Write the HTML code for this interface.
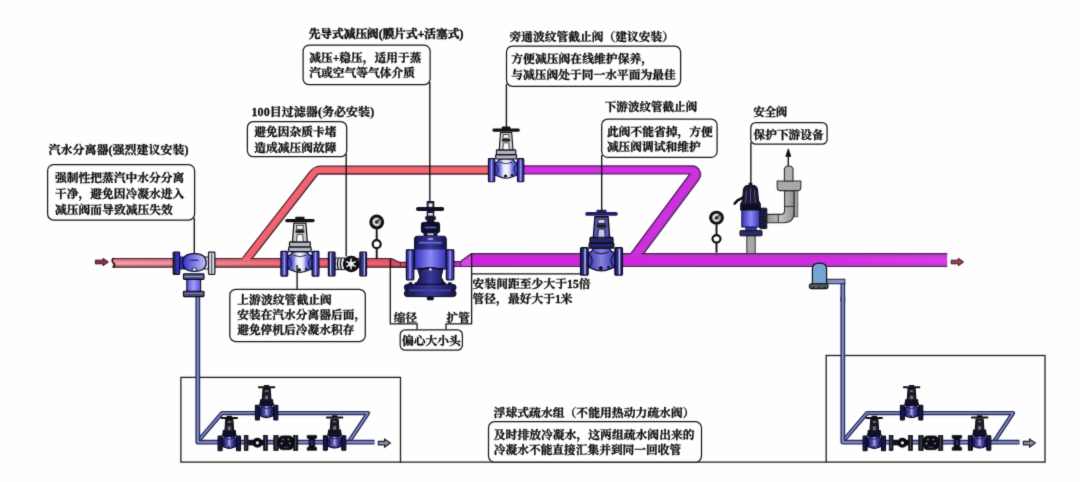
<!DOCTYPE html>
<html lang="zh-CN">
<head>
<meta charset="utf-8">
<title>减压阀组安装示意图</title>
<style>
html,body{margin:0;padding:0;background:#fefefe;}
body{width:1080px;height:482px;overflow:hidden;position:relative;}
svg{position:absolute;left:0;top:0;display:block;will-change:transform;}
svg text{font-family:"Liberation Serif", "Noto Serif CJK SC", serif;}
</style>
</head>
<body>
<svg width="1080" height="482" viewBox="0 0 1080 482">
<defs>
<filter id="soft" x="0" y="0" width="1080" height="482" filterUnits="userSpaceOnUse" color-interpolation-filters="sRGB">
<feConvolveMatrix order="3" kernelMatrix="0.02 0.08 0.02 0.08 0.6 0.08 0.02 0.08 0.02" divisor="1" edgeMode="duplicate" preserveAlpha="true"/>
</filter>
<linearGradient id="gRedH" gradientUnits="userSpaceOnUse" x1="113" y1="0" x2="391" y2="0">
<stop offset="0" stop-color="#f99aa8"/><stop offset="0.3" stop-color="#f78896"/><stop offset="0.55" stop-color="#f66a7a"/><stop offset="1" stop-color="#f4566a"/>
</linearGradient>
<linearGradient id="gShade" x1="0" y1="0" x2="0" y2="1">
<stop offset="0" stop-color="#8c5864" stop-opacity="0.6"/><stop offset="0.16" stop-color="#8c5864" stop-opacity="0.5"/><stop offset="0.4" stop-color="#8c5864" stop-opacity="0"/><stop offset="0.62" stop-color="#8c5864" stop-opacity="0"/><stop offset="0.84" stop-color="#806060" stop-opacity="0.55"/><stop offset="1" stop-color="#806060" stop-opacity="0.7"/>
</linearGradient>
<linearGradient id="gMagH" gradientUnits="userSpaceOnUse" x1="454" y1="0" x2="947" y2="0">
<stop offset="0" stop-color="#d020e0"/><stop offset="0.7" stop-color="#d22ae2"/><stop offset="1" stop-color="#da3aea"/>
</linearGradient>
<linearGradient id="gShadeM" x1="0" y1="0" x2="0" y2="1">
<stop offset="0" stop-color="#8c5090" stop-opacity="0.6"/><stop offset="0.14" stop-color="#8c5090" stop-opacity="0.5"/><stop offset="0.3" stop-color="#8c5090" stop-opacity="0"/><stop offset="0.7" stop-color="#8c5090" stop-opacity="0"/><stop offset="0.86" stop-color="#8c5090" stop-opacity="0.5"/><stop offset="1" stop-color="#8c5090" stop-opacity="0.6"/>
</linearGradient>
<linearGradient id="gFl" x1="0" y1="0" x2="1" y2="0">
<stop offset="0" stop-color="#24227c"/><stop offset="0.3" stop-color="#4442bc"/><stop offset="0.5" stop-color="#a8a6ea"/><stop offset="0.7" stop-color="#4442bc"/><stop offset="1" stop-color="#222074"/>
</linearGradient>
<linearGradient id="gFlD" x1="0" y1="0" x2="1" y2="0">
<stop offset="0" stop-color="#1c1a5c"/><stop offset="0.4" stop-color="#2c2a88"/><stop offset="0.6" stop-color="#d0d0f0"/><stop offset="0.78" stop-color="#2c2a88"/><stop offset="1" stop-color="#1c1a5c"/>
</linearGradient>
<linearGradient id="gFlL" x1="0" y1="0" x2="1" y2="0">
<stop offset="0" stop-color="#1c1c44"/><stop offset="0.4" stop-color="#2a2a70"/><stop offset="0.6" stop-color="#3836cc"/><stop offset="1" stop-color="#3432c4"/>
</linearGradient>
<linearGradient id="gFlS" x1="0" y1="0" x2="1" y2="0">
<stop offset="0" stop-color="#22205c"/><stop offset="0.18" stop-color="#2e2c7c"/><stop offset="0.32" stop-color="#d0d0f0"/><stop offset="0.48" stop-color="#3c3a94"/><stop offset="1" stop-color="#24225c"/>
</linearGradient>
<linearGradient id="gBodyS" x1="0" y1="0" x2="1" y2="0">
<stop offset="0" stop-color="#1e1c70"/><stop offset="0.35" stop-color="#4a48a8"/><stop offset="0.5" stop-color="#b0aee4"/><stop offset="0.65" stop-color="#4a48a8"/><stop offset="1" stop-color="#1e1c70"/>
</linearGradient>
<linearGradient id="gSep" x1="0" y1="0" x2="1" y2="0">
<stop offset="0" stop-color="#3230c0"/><stop offset="0.45" stop-color="#7a78e4"/><stop offset="1" stop-color="#c4c4f4"/>
</linearGradient>
<linearGradient id="gBodyL" x1="0" y1="0" x2="1" y2="0">
<stop offset="0" stop-color="#3c3ac0"/><stop offset="0.22" stop-color="#6c6ad4"/><stop offset="0.38" stop-color="#e4e4f8"/><stop offset="0.5" stop-color="#f6f6fc"/><stop offset="0.62" stop-color="#e4e4f8"/><stop offset="0.78" stop-color="#6c6ad4"/><stop offset="1" stop-color="#3c3ac0"/>
</linearGradient>
<linearGradient id="gBodyD" x1="0" y1="0" x2="1" y2="0">
<stop offset="0" stop-color="#3a38b4"/><stop offset="0.35" stop-color="#6c6acc"/><stop offset="0.5" stop-color="#8482d8"/><stop offset="0.65" stop-color="#6c6acc"/><stop offset="1" stop-color="#3a38b4"/>
</linearGradient>
<linearGradient id="gGray" x1="0" y1="0" x2="1" y2="0">
<stop offset="0" stop-color="#8e9090"/><stop offset="0.5" stop-color="#c4c6c6"/><stop offset="1" stop-color="#8e9090"/>
</linearGradient>
<linearGradient id="gPRV" x1="0" y1="0" x2="1" y2="0">
<stop offset="0" stop-color="#3432b4"/><stop offset="0.5" stop-color="#8a88f8"/><stop offset="1" stop-color="#3432b4"/>
</linearGradient>
<linearGradient id="gPRV2" x1="0" y1="0" x2="1" y2="0">
<stop offset="0" stop-color="#5452d8"/><stop offset="0.5" stop-color="#a09ef8"/><stop offset="1" stop-color="#5452d8"/>
</linearGradient>
<linearGradient id="gNavy" x1="0" y1="0" x2="1" y2="0">
<stop offset="0" stop-color="#15144c"/><stop offset="0.5" stop-color="#3a3a9c"/><stop offset="1" stop-color="#15144c"/>
</linearGradient>

<g id="valve-light">
<path d="M-12.4,-8 C-9,-8 -8,-10 -7.2,-12 L7.2,-12 C8,-10 9,-8 12.4,-8 L12.4,5 C8,6.6 5,8.6 0,8.6 C-5,8.6 -8,6.6 -12.4,5 Z" fill="url(#gBodyL)" stroke="#0c0c24" stroke-width="1.2"/>
<path d="M-12,-7 C-7.4,-3 -7.4,2 -12,5.2 M12,-7 C7.4,-3 7.4,2 12,5.2" fill="none" stroke="#0c0c24" stroke-width="0.96"/>
<path d="M-6.4,-8.4 Q0,-5.6 6.4,-8.4" fill="none" stroke="#0c0c24" stroke-width="0.84"/>
<circle cx="-0.6" cy="6.2" r="1.7" fill="#0c0c18"/>
<circle cx="6.4" cy="5.4" r="1.3" fill="#16162c"/>
<rect x="-19" y="-12.4" width="6.8" height="24.8" rx="0.8" fill="url(#gFl)" stroke="#0c0c24" stroke-width="1.2"/>
<rect x="12.2" y="-12.4" width="6.8" height="24.8" rx="0.8" fill="url(#gFl)" stroke="#0c0c24" stroke-width="1.2"/>
<rect x="-11.2" y="-16.7" width="22.4" height="4.7" rx="0.8" fill="#b4b4c4" stroke="#0c0c14" stroke-width="1.2"/>
<rect x="-10.4" y="-21.8" width="20.8" height="5" rx="0.8" fill="#b4b4c4" stroke="#0c0c14" stroke-width="1.2"/>
<path d="M-7.4,-21.8 L-6,-40.6 L6,-40.6 L7.4,-21.8 Z" fill="#d0d0d6" stroke="#0c0c14" stroke-width="1.2"/>
<path d="M-3.4,-22 L-2.8,-29.4 L2.8,-29.4 L3.4,-22 Z" fill="#fafafa" stroke="#1c1c1c" stroke-width="0.84"/>
<rect x="-3.2" y="-38.4" width="6.4" height="4" fill="#fafafa" stroke="#1c1c1c" stroke-width="0.84"/>
<rect x="-4.4" y="-33.6" width="8.8" height="2.8" fill="#1c1c1c"/>
<rect x="-14.8" y="-44.8" width="29.6" height="3.4" rx="1.7" fill="#111"/>
<rect x="-4.6" y="-46.9" width="9.2" height="3" rx="0.8" fill="#111"/>
</g>
<g id="valve-dark">
<path d="M-12.4,-8 C-9,-8 -8,-10 -7.2,-12 L7.2,-12 C8,-10 9,-8 12.4,-8 L12.4,5 C8,6.6 5,8.6 0,8.6 C-5,8.6 -8,6.6 -12.4,5 Z" fill="url(#gBodyD)" stroke="#0c0c24" stroke-width="1.2"/>
<path d="M-12,-7 C-7.4,-3 -7.4,2 -12,5.2 M12,-7 C7.4,-3 7.4,2 12,5.2" fill="none" stroke="#0c0c24" stroke-width="0.96"/>
<path d="M-6.4,-8.4 Q0,-5.6 6.4,-8.4" fill="none" stroke="#0c0c24" stroke-width="0.84"/>
<circle cx="-0.6" cy="6.2" r="1.7" fill="#0c0c18"/>
<circle cx="6.4" cy="5.4" r="1.3" fill="#16162c"/>
<rect x="-19" y="-12.4" width="6.8" height="24.8" rx="0.8" fill="url(#gFlD)" stroke="#0c0c24" stroke-width="1.2"/>
<rect x="12.2" y="-12.4" width="6.8" height="24.8" rx="0.8" fill="url(#gFlD)" stroke="#0c0c24" stroke-width="1.2"/>
<rect x="-11.2" y="-16.7" width="22.4" height="4.7" rx="0.8" fill="#26246c" stroke="#0c0c14" stroke-width="1.2"/>
<rect x="-10.4" y="-21.8" width="20.8" height="5" rx="0.8" fill="#26246c" stroke="#0c0c14" stroke-width="1.2"/>
<path d="M-7.4,-21.8 L-6,-40.6 L6,-40.6 L7.4,-21.8 Z" fill="#5a58bc" stroke="#0c0c14" stroke-width="1.2"/>
<path d="M-3.4,-22 L-2.8,-29.4 L2.8,-29.4 L3.4,-22 Z" fill="#c8c8f0" stroke="#1c1c1c" stroke-width="0.84"/>
<rect x="-3.2" y="-38.4" width="6.4" height="4" fill="#c8c8f0" stroke="#1c1c1c" stroke-width="0.84"/>
<rect x="-4.4" y="-33.6" width="8.8" height="2.8" fill="#1c1c1c"/>
<rect x="-14.8" y="-44.8" width="29.6" height="3.4" rx="1.7" fill="#202064"/>
<rect x="-4.6" y="-46.9" width="9.2" height="3" rx="0.8" fill="#202064"/>
</g>
<g id="valve-small">
<path d="M-12.4,-8 C-9,-8 -8,-10 -7.2,-12 L7.2,-12 C8,-10 9,-8 12.4,-8 L12.4,5 C8,6.6 5,8.6 0,8.6 C-5,8.6 -8,6.6 -12.4,5 Z" fill="url(#gBodyS)" stroke="#08081a" stroke-width="1.8"/>
<path d="M-12,-7 C-7.4,-3 -7.4,2 -12,5.2 M12,-7 C7.4,-3 7.4,2 12,5.2" fill="none" stroke="#08081a" stroke-width="1.44"/>
<path d="M-6.4,-8.4 Q0,-5.6 6.4,-8.4" fill="none" stroke="#08081a" stroke-width="1.26"/>
<circle cx="-0.6" cy="6.2" r="1.7" fill="#0c0c18"/>
<circle cx="6.4" cy="5.4" r="1.3" fill="#16162c"/>
<rect x="-19" y="-12.4" width="6.8" height="24.8" rx="0.8" fill="#16164a" stroke="#08081a" stroke-width="1.8"/>
<rect x="12.2" y="-12.4" width="6.8" height="24.8" rx="0.8" fill="#16164a" stroke="#08081a" stroke-width="1.8"/>
<rect x="-11.2" y="-16.7" width="22.4" height="4.7" rx="0.8" fill="#121234" stroke="#0c0c14" stroke-width="1.8"/>
<rect x="-10.4" y="-21.8" width="20.8" height="5" rx="0.8" fill="#121234" stroke="#0c0c14" stroke-width="1.8"/>
<path d="M-7.4,-21.8 L-6,-40.6 L6,-40.6 L7.4,-21.8 Z" fill="#1c1c30" stroke="#0c0c14" stroke-width="1.8"/>
<path d="M-3.4,-22 L-2.8,-29.4 L2.8,-29.4 L3.4,-22 Z" fill="#74748c" stroke="#1c1c1c" stroke-width="1.26"/>
<rect x="-3.2" y="-38.4" width="6.4" height="4" fill="#74748c" stroke="#1c1c1c" stroke-width="1.26"/>
<rect x="-4.4" y="-33.6" width="8.8" height="2.8" fill="#1c1c1c"/>
<rect x="-14.8" y="-44.8" width="29.6" height="3.4" rx="1.7" fill="#111"/>
<rect x="-4.6" y="-46.9" width="9.2" height="3" rx="0.8" fill="#111"/>
</g>
<g id="gauge">
<line x1="0" y1="7" x2="0" y2="36.8" stroke="#111" stroke-width="1.9"/>
<circle cx="0" cy="0" r="7.4" fill="#121212"/>
<circle cx="0" cy="0" r="4.5" fill="#a4a4a4"/>
<path d="M2.2,2.2 A3,3 0 1 1 2.2,-2.2" fill="none" stroke="#ececec" stroke-width="1.4"/>
<circle cx="-0.2" cy="0.2" r="1.7" fill="#2c2c2c"/>
<line x1="-0.4" y1="0.8" x2="2.8" y2="-3" stroke="#1c1c1c" stroke-width="1.2"/>
<circle cx="0" cy="22.3" r="4" fill="#fefefe" stroke="#111" stroke-width="2.2"/>
</g>
<g id="trapgroup">
<path d="M199.4,439.6 L222,413.1 L368,413.1 L349.5,441" fill="none" stroke="#262e60" stroke-width="4.3" stroke-linejoin="round"/>
<path d="M199.4,439.6 L222,413.1 L368,413.1 L349.5,441" fill="none" stroke="#8890c4" stroke-width="1.5" stroke-linejoin="round"/>
<path d="M197.8,296.4 L197.8,442.2 L374.5,442.2" fill="none" stroke="#262e60" stroke-width="4.8" stroke-linejoin="round"/>
<path d="M197.8,296.4 L197.8,442.2 L374.5,442.2" fill="none" stroke="#8890c4" stroke-width="2.0" stroke-linejoin="round"/>
</g>
<g id="trapparts">
<use href="#valve-small" transform="translate(229.3,443.4) scale(0.59)"/>
<use href="#valve-small" transform="translate(266.6,412.6) scale(0.59)"/>
<use href="#valve-small" transform="translate(334.6,443) scale(0.59)"/>
<rect x="244.2" y="435.4" width="3.8" height="15" fill="#14141c" stroke="#0a0a10" stroke-width="0.7"/>
<rect x="263.6" y="435.4" width="3.8" height="15" fill="#14141c" stroke="#0a0a10" stroke-width="0.7"/>
<line x1="246" y1="436.4" x2="246" y2="449.4" stroke="#6c6c80" stroke-width="0.7"/>
<line x1="265.6" y1="436.4" x2="265.6" y2="449.4" stroke="#6c6c80" stroke-width="0.7"/>
<rect x="248.2" y="440" width="15.4" height="5.4" fill="#101018"/>
<circle cx="257.4" cy="442.8" r="3.3" fill="#f0f0f4" stroke="#0a0a10" stroke-width="3.4"/>
<rect x="273.8" y="435.6" width="4.4" height="14.8" fill="#14141c" stroke="#0a0a10" stroke-width="0.7"/>
<rect x="293.6" y="435.6" width="4.2" height="14.8" fill="#14141c" stroke="#0a0a10" stroke-width="0.7"/>
<line x1="276" y1="436.6" x2="276" y2="449.4" stroke="#6c6c80" stroke-width="0.7"/>
<line x1="295.6" y1="436.6" x2="295.6" y2="449.4" stroke="#6c6c80" stroke-width="0.7"/>
<rect x="278.4" y="435.9" width="15.2" height="13.8" rx="4.4" fill="#0c0c14" stroke="#0a0a10" stroke-width="0.8"/>
<circle cx="283" cy="439.4" r="0.9" fill="#8c8c9c"/><circle cx="288.4" cy="439.4" r="0.9" fill="#8c8c9c"/>
<circle cx="281.6" cy="443.4" r="1" fill="#9c9cac"/><circle cx="289.8" cy="443.4" r="0.9" fill="#8c8c9c"/>
<path d="M283.4,447 q2.6,1 5.2,0" fill="none" stroke="#6c6c7c" stroke-width="0.7"/>
<path d="M307.2,435.4 h9.4 v2.8 h-1.8 v9.2 h1.8 v2.8 h-9.4 v-2.8 h1.8 v-9.2 h-1.8 Z" fill="#0c0c14" stroke="#0a0a10" stroke-width="0.7"/>
<rect x="310.4" y="440.2" width="3" height="5" fill="#26267c"/>
<path d="M378.4,441.4 h6.2 v-2.3 l5.8,4 l-5.8,4 v-2.3 h-6.2 Z" fill="#8a90a2" stroke="#20202c" stroke-width="1.2"/>

</g>
</defs>
<g filter="url(#soft)">
<rect x="0" y="0" width="1080" height="482" fill="#fefefe"/>
<rect x="180.9" y="377.4" width="219.6" height="84.7" fill="none" stroke="#1c1c1c" stroke-width="1.3"/>
<rect x="826.2" y="355.5" width="218.8" height="106.6" fill="none" stroke="#1c1c1c" stroke-width="1.3"/>
<line x1="400.0" y1="462.1" x2="826.5" y2="462.1" stroke="#1c1c1c" stroke-width="1.3"/>
<path d="M242.2,258.6 L308.8,173.2 Q314.3,166.2 320,166.2 L506,166.2 L506,174 L318,174 L252,258.6 Z" fill="#d46c78" stroke="#54202a" stroke-width="1.3" stroke-linejoin="round"/>
<path d="M243.6,262 L315.6,170.1 L506,170.1" fill="none" stroke="#ea6472" stroke-width="5" stroke-linejoin="round"/>
<path d="M243.6,262 L315.6,170.1 L506,170.1" fill="none" stroke="#f8626f" stroke-width="3.2" stroke-linejoin="round"/>
<path d="M506,166 L691.8,166 A8.6,8.6 0 0 1 698.8,179.7 L643.4,253.8 L630.6,253.8 L690,173.8 L506,173.8 Z" fill="#b440c0" stroke="#581868" stroke-width="1.3" stroke-linejoin="round"/>
<path d="M506,169.9 L692,169.9 Q697.6,170.4 694.6,176 L633.6,258" fill="none" stroke="#c434d4" stroke-width="6.4" stroke-linejoin="round"/>
<path d="M506,169.9 L692,169.9 Q697.6,170.4 694.6,176 L633.6,258" fill="none" stroke="#d22ee2" stroke-width="4.4" stroke-linejoin="round"/>
<rect x="112.6" y="258.6" width="278.4" height="8.6" fill="url(#gRedH)"/>
<rect x="112.6" y="258.6" width="278.4" height="8.6" fill="url(#gShade)"/>
<path d="M390.6,258.6 C394.5,258.6 396.5,262.4 400.4,262.4 L406.6,262.4 L406.6,267.2 L390.6,267.2 Z" fill="#d04c6c" stroke="#54202a" stroke-width="1.2"/>
<line x1="400.4" y1="262.4" x2="400.4" y2="267.2" stroke="#54202a" stroke-width="1"/>
<path d="M112.6,258.5 L391,258.5 M112.6,267.2 L406.6,267.2" fill="none" stroke="#54202a" stroke-width="1.2"/>
<path d="M453.8,261.6 L460.6,261.6 L471.2,253.8 L947.2,253.8 L947.2,266.6 L453.8,266.6 Z" fill="url(#gMagH)"/>
<path d="M453.8,261.6 L460.6,261.6 L471.2,253.8 L947.2,253.8 L947.2,266.6 L453.8,266.6 Z" fill="url(#gShadeM)"/>
<path d="M460.6,261.6 L471.2,253.8 L471.2,266.6 L460.6,266.6 Z" fill="#d858e6" opacity="0.7"/>
<path d="M453.8,261.6 L460.6,261.6 L471.2,253.7 L947.2,253.7 M453.8,266.5 L947.2,266.5 M460.6,261.6 L460.6,266.6" fill="none" stroke="#581868" stroke-width="1.2"/>
<path d="M243.4,257.2 L251,257.2 L249.4,260.4 L241.2,260.4 Z" fill="#f26a7a"/>
<path d="M632.2,252.6 L642.2,252.6 L640,256.2 L629.6,256.2 Z" fill="#cc2ede"/>
<path d="M113.8,258.2 C111.4,259.4 111.8,261.8 113.4,262.8 C115.2,264 115,266.4 113,267.4" fill="none" stroke="#111" stroke-width="1.5"/>
<path d="M95.4,260.2 h7.6 v-1.9 l5.4,3.7 l-5.4,3.7 v-1.9 h-7.6 Z" fill="#8c3048" stroke="#3c1020" stroke-width="1"/>
<path d="M951.2,260.2 h7.2 v-1.9 l5.2,3.7 l-5.2,3.7 v-1.9 h-7.2 Z" fill="#9c4458" stroke="#3c1020" stroke-width="1"/>
<use href="#trapgroup"/>
<use href="#trapparts"/>
<g transform="translate(645,0)"><use href="#trapgroup"/><use href="#trapparts"/><path d="M197.8,282 L197.8,302" fill="none" stroke="#262e60" stroke-width="4.8"/><path d="M197.8,282 L197.8,302" fill="none" stroke="#8890c4" stroke-width="2"/></g>
<g>
<rect x="178.6" y="257" width="6" height="12" fill="#3230c4" stroke="#0c0c24" stroke-width="0.9"/>
<rect x="204" y="257" width="5" height="12" fill="#e8e8f4" stroke="#0c0c24" stroke-width="0.9"/>
<path d="M182.6,262.6 C182.6,256 186.6,253.6 194.4,253.6 C202.2,253.6 206.2,256 206.2,262.6 C206.2,268.6 202.2,271.4 194.4,271.4 C186.6,271.4 182.6,268.6 182.6,262.6 Z" fill="url(#gSep)" stroke="#0c0c24" stroke-width="1.2"/>
<line x1="190.4" y1="260.2" x2="198.4" y2="260.2" stroke="#14142c" stroke-width="1"/>
<path d="M192.2,270.6 v-2 q2.2,-2 4.4,0 v2" fill="#d8d8f4" stroke="#14142c" stroke-width="0.9"/>
<rect x="173.2" y="252.2" width="6.4" height="22.2" rx="0.8" fill="url(#gFlL)" stroke="#0c0c24" stroke-width="1.2"/>
<rect x="208.5" y="252.2" width="6.4" height="22.2" rx="0.8" fill="#dcdce4" stroke="#0c0c24" stroke-width="1.2"/>
<line x1="211.7" y1="253.4" x2="211.7" y2="273.4" stroke="#3c3c54" stroke-width="1"/>
<rect x="186.8" y="279" width="13.8" height="12.6" fill="url(#gPRV2)" stroke="#0c0c24" stroke-width="1.1"/>
<rect x="183.4" y="273.8" width="20.6" height="5.6" rx="0.8" fill="#4a4a7c" stroke="#0c0c18" stroke-width="1.1"/>
<line x1="184.4" y1="276.6" x2="203" y2="276.6" stroke="#a4a4c8" stroke-width="1"/>
<rect x="183.4" y="291.2" width="20.6" height="5.4" rx="0.8" fill="#4a4a7c" stroke="#0c0c18" stroke-width="1.1"/>
<line x1="184.4" y1="293.4" x2="203" y2="293.4" stroke="#8c8cb4" stroke-width="0.8"/>
</g>
<use href="#valve-light" transform="translate(299.9,263.7) scale(1.0)"/>
<use href="#valve-light" transform="translate(506.1,170.2) scale(0.93)"/>
<use href="#valve-dark" transform="translate(601.5,261.4) scale(1.1)"/>
<g>
<rect x="335" y="258" width="9.6" height="11.6" fill="#eeeef2" stroke="#111" stroke-width="1"/>
<path d="M338.2,258.4 q-1.6,5.4 0,10.8 M341.2,258.4 q-1.6,5.4 0,10.8" fill="none" stroke="#181818" stroke-width="1.4"/>
<circle cx="351.2" cy="264" r="8.3" fill="#101014"/>
<path d="M351,258.6 v10.8 M346.3,261.3 l9.4,5.4 M346.3,266.7 l9.4,-5.4" stroke="#f0f0f4" stroke-width="1.5" fill="none"/>
<circle cx="351" cy="264" r="2.6" fill="#f0f0f4"/>
<rect x="328.4" y="252" width="6.6" height="24" rx="0.8" fill="url(#gFlS)" stroke="#0c0c24" stroke-width="1.2"/>
<rect x="359.9" y="252" width="6.6" height="24" rx="0.8" fill="url(#gFlS)" stroke="#0c0c24" stroke-width="1.2" transform="translate(726.4,0) scale(-1,1)"/>
</g>
<use href="#gauge" transform="translate(376.7,221.9)"/>
<use href="#gauge" transform="translate(716.5,217.8) scale(1,0.945)"/>
<g>
<rect x="427.2" y="201.6" width="6.6" height="21" fill="#16163c" stroke="#0a0a1c" stroke-width="1"/>
<rect x="416" y="206.9" width="28.2" height="4.2" rx="2" fill="#101024"/>
<rect x="428.6" y="203.4" width="3.8" height="3.4" fill="#f0f0f8"/>
<rect x="428.2" y="213" width="4.6" height="2.6" fill="#dcdcec"/>
<rect x="425.2" y="216.4" width="10.6" height="3.4" fill="#14142c"/>
<rect x="421.4" y="222.4" width="18.2" height="10.4" rx="2" fill="#0e0e28" stroke="#0a0a1c" stroke-width="1"/>
<rect x="424.8" y="226.6" width="11.4" height="1.8" fill="#5a5ab0"/>
<rect x="424" y="232" width="13" height="5" fill="#181848" stroke="#0a0a1c" stroke-width="0.8"/>
<rect x="427.4" y="233.4" width="6.2" height="1.8" fill="#d0d0e8"/>
<path d="M414.6,239.4 Q414.6,236.2 417.8,236.2 L443,236.2 Q446.2,236.2 446.2,239.4 L446.2,269 L414.6,269 Z" fill="url(#gPRV)" stroke="#0a0a1c" stroke-width="1.1"/>
<path d="M414.6,239.4 Q414.6,236.2 417.8,236.2 L443,236.2 Q446.2,236.2 446.2,239.4 L446.2,249.4 L414.6,249.4 Z" fill="url(#gNavy)"/>
<rect x="419" y="241.8" width="22.8" height="1.8" fill="#6a6ad0"/>
<rect x="428" y="238.2" width="5" height="1.6" fill="#b4b4dc"/>
<path d="M417.6,268.4 L443.2,268.4 L441,277 L445,284.4 L416,284.4 L420,277 Z" fill="url(#gNavy)" stroke="#0a0a1c" stroke-width="1"/>
<path d="M420.4,269.6 Q430.4,265.8 440.4,269.6" fill="none" stroke="#0a0a1c" stroke-width="1.2"/>
<circle cx="430.4" cy="269.4" r="1.3" fill="#e4e4f4"/>
<rect x="406.4" y="249.8" width="7.4" height="30" rx="0.8" fill="url(#gFl)" stroke="#0c0c24" stroke-width="1.2"/>
<rect x="446.4" y="249.8" width="7.4" height="30" rx="0.8" fill="url(#gFl)" stroke="#0c0c24" stroke-width="1.2"/>
<path d="M409,284.6 v-1.8 h3 v1.8 M415,284.6 v-1.8 h3 v1.8 M442.4,284.6 v-1.8 h3 v1.8 M448.4,284.6 v-1.8 h3 v1.8" fill="#14143c" stroke="#0a0a1c" stroke-width="0.8"/>
<rect x="404.4" y="284.4" width="51.6" height="6.2" rx="2.8" fill="url(#gNavy)" stroke="#0a0a1c" stroke-width="1"/>
<rect x="404.4" y="290.4" width="51.6" height="6.2" rx="2.8" fill="url(#gNavy)" stroke="#0a0a1c" stroke-width="1"/>
<rect x="409" y="289.6" width="42" height="1.6" fill="#4848b0"/>
<rect x="426.8" y="296.6" width="7" height="3.6" rx="1.2" fill="#101028"/>
</g>
<g>
<rect x="746.8" y="235" width="8.4" height="18.6" fill="#a6a8a8" stroke="#333" stroke-width="1"/>
<rect x="740" y="230.6" width="22" height="5.2" rx="0.8" fill="#2c2c6c" stroke="#111" stroke-width="1"/>
<rect x="745.8" y="226.4" width="10.4" height="4.4" fill="#3432a0" stroke="#111" stroke-width="0.8"/>
<rect x="741.8" y="209.4" width="18" height="17.6" fill="url(#gPRV)" stroke="#15153a" stroke-width="1"/>
<rect x="759.8" y="208.2" width="7" height="20.4" rx="0.8" fill="#1a1a40" stroke="#111" stroke-width="1"/>
<path d="M740.8,210 L740.8,204 L742.6,200.4 L743.4,190.4 Q743.8,186.6 747,185.6 L749.2,185.2 L749.2,183.2 L751.8,183.2 L751.8,185.2 L754,185.6 Q757.2,186.6 757.6,190.4 L758.4,200.4 L760.2,204 L760.2,210 Z" fill="#1a1834" stroke="#0a0a14" stroke-width="1.1"/>
<rect x="740.8" y="204.4" width="19.4" height="5.4" fill="#0e0e1c"/>
<path d="M746.6,190 L745.6,203 M750.5,188 L750.5,203 M754.4,190 L755.4,203" stroke="#54528c" stroke-width="1" fill="none"/>
<path d="M742.8,197.6 L737.4,200.6 L734.6,203.6" fill="none" stroke="#111" stroke-width="2.6" stroke-linecap="round"/>

</g>
<g>
<rect x="794.6" y="190.6" width="3.2" height="26.2" fill="#a0a2a2" stroke="#4a4a4a" stroke-width="0.8"/>
<path d="M767,214.4 L780.6,214.4 Q784.6,214.4 784.6,210.4 L784.6,190.6 L794,190.6 L794,212.6 Q794,222.8 783.8,222.8 L767,222.8 Z" fill="url(#gGray)" stroke="#2c2c2c" stroke-width="1.1"/>
<line x1="778.2" y1="214.4" x2="778.2" y2="222.8" stroke="#2c2c2c" stroke-width="1"/>
<path d="M784.6,206.4 L794,206.4" stroke="#2c2c2c" stroke-width="1"/>
<path d="M777.2,181 L800.8,181 L800.8,187.4 Q800.8,190.6 797.6,190.6 L780.4,190.6 Q777.2,190.6 777.2,187.4 Z" fill="#a8aaaa" stroke="#2c2c2c" stroke-width="1.1"/>
<path d="M784.4,181 L784.4,168.4 L786.4,166.2 L791,166.2 L793,168.4 L793,181 Z" fill="#b0b2b2" stroke="#2c2c2c" stroke-width="1.1"/>
<line x1="788.3" y1="166" x2="788.3" y2="155" stroke="#111" stroke-width="1.4"/>
<path d="M788.3,148.8 L790.8,156.4 L785.8,156.4 Z" fill="#111" stroke="#111" stroke-width="0.8"/>
</g>
<g>
<rect x="826.6" y="279.3" width="18.2" height="4.4" fill="#8890bc" stroke="#262e60" stroke-width="1.1"/>
<path d="M812.4,284 L812.4,268.6 Q812.4,263.2 819.4,263.2 Q826.6,263.2 826.6,268.6 L826.6,284 Z" fill="#74a4d4" stroke="#111" stroke-width="1.2"/>
<rect x="809.4" y="283.8" width="18.6" height="4.8" rx="2" fill="#55585c" stroke="#111" stroke-width="1.1"/>
<path d="M813.6,288.4 v-2 M819,288.4 v-2 M824.4,288.4 v-2" stroke="#111" stroke-width="1"/>
</g>
<line x1="194.3" y1="218.0" x2="194.3" y2="253.4" stroke="#101010" stroke-width="1.35"/>
<line x1="346.2" y1="154.0" x2="346.2" y2="256.4" stroke="#101010" stroke-width="1.35"/>
<line x1="429.8" y1="82.0" x2="429.8" y2="201.6" stroke="#101010" stroke-width="1.35"/>
<line x1="506.4" y1="84.0" x2="506.4" y2="129.0" stroke="#101010" stroke-width="1.35"/>
<line x1="601.7" y1="155.0" x2="601.7" y2="212.0" stroke="#101010" stroke-width="1.35"/>
<line x1="750.9" y1="142.0" x2="750.9" y2="184.0" stroke="#101010" stroke-width="1.35"/>
<line x1="297.1" y1="265.0" x2="297.1" y2="289.4" stroke="#101010" stroke-width="1.35"/>
<path d="M390.3,258.4 L390.3,323.8 L417.1,323.8 L417.1,329.8 M471.6,253.6 L471.6,323.8 L446,323.8 L446,329.8" fill="none" stroke="#151515" stroke-width="1.3"/>
<line x1="471.6" y1="273.9" x2="581.0" y2="273.9" stroke="#101010" stroke-width="1.35"/>
<rect x="47.6" y="164.6" width="147.0" height="55.4" rx="6" ry="6" fill="#fefefe" stroke="#181818" stroke-width="1.25"/>
<rect x="247.4" y="121.5" width="99.3" height="35.2" rx="6" ry="6" fill="#fefefe" stroke="#181818" stroke-width="1.25"/>
<rect x="303.1" y="45.1" width="127.0" height="39.6" rx="6" ry="6" fill="#fefefe" stroke="#181818" stroke-width="1.25"/>
<rect x="506.5" y="46.0" width="174.1" height="40.3" rx="6" ry="6" fill="#fefefe" stroke="#181818" stroke-width="1.25"/>
<rect x="601.7" y="119.0" width="115.4" height="38.4" rx="6" ry="6" fill="#fefefe" stroke="#181818" stroke-width="1.25"/>
<rect x="750.8" y="122.6" width="76.3" height="21.6" rx="5" ry="5" fill="#fefefe" stroke="#181818" stroke-width="1.25"/>
<rect x="229.8" y="289.3" width="135.5" height="52.2" rx="6" ry="6" fill="#fefefe" stroke="#181818" stroke-width="1.25"/>
<rect x="400.2" y="329.8" width="62.2" height="20.4" rx="5" ry="5" fill="#fefefe" stroke="#181818" stroke-width="1.25"/>
<rect x="488.5" y="421.7" width="213.0" height="40.4" rx="6" ry="6" fill="#fefefe" stroke="#181818" stroke-width="1.25"/>
<text x="48.4" y="153.7" font-size="11.9" font-weight="700" fill="#0c0c0c" textLength="140.0" lengthAdjust="spacingAndGlyphs" stroke="#0c0c0c" stroke-width="0.3">汽水分离器(强烈建议安装)</text>
<text x="251.6" y="115.9" font-size="11.9" font-weight="700" fill="#0c0c0c" textLength="122.6" lengthAdjust="spacingAndGlyphs" stroke="#0c0c0c" stroke-width="0.3">100目过滤器(务必安装)</text>
<text x="308.7" y="37.9" font-size="11.9" font-weight="700" fill="#0c0c0c" textLength="154.6" lengthAdjust="spacingAndGlyphs" stroke="#0c0c0c" stroke-width="0.5">先导式减压阀(膜片式+活塞式)</text>
<text x="509.6" y="40.5" font-size="11.9" font-weight="700" fill="#0c0c0c" textLength="164.4" lengthAdjust="spacingAndGlyphs" stroke="#0c0c0c" stroke-width="0.3">旁通波纹管截止阀（建议安装）</text>
<text x="604.8" y="111.3" font-size="11.9" font-weight="700" fill="#0c0c0c" textLength="92.4" lengthAdjust="spacingAndGlyphs" stroke="#0c0c0c" stroke-width="0.3">下游波纹管截止阀</text>
<text x="753.6" y="116.1" font-size="11.9" font-weight="700" fill="#0c0c0c" textLength="33.8" lengthAdjust="spacingAndGlyphs" stroke="#0c0c0c" stroke-width="0.3">安全阀</text>
<text x="493.6" y="416.7" font-size="11.9" font-weight="700" fill="#0c0c0c" textLength="201.0" lengthAdjust="spacingAndGlyphs" stroke="#0c0c0c" stroke-width="0.3">浮球式疏水组（不能用热动力疏水阀）</text>
<text x="54.9" y="181.7" font-size="11.9" font-weight="700" fill="#0c0c0c" textLength="129.4" lengthAdjust="spacingAndGlyphs" stroke="#0c0c0c" stroke-width="0.3">强制性把蒸汽中水分分离</text>
<text x="54.9" y="197.7" font-size="11.9" font-weight="700" fill="#0c0c0c" textLength="129.4" lengthAdjust="spacingAndGlyphs" stroke="#0c0c0c" stroke-width="0.3">干净，避免因冷凝水进入</text>
<text x="54.9" y="213.5" font-size="11.9" font-weight="700" fill="#0c0c0c" textLength="118.0" lengthAdjust="spacingAndGlyphs" stroke="#0c0c0c" stroke-width="0.3">减压阀而导致减压失效</text>
<text x="254.2" y="136.3" font-size="11.9" font-weight="700" fill="#0c0c0c" textLength="82.4" lengthAdjust="spacingAndGlyphs" stroke="#0c0c0c" stroke-width="0.3">避免因杂质卡堵</text>
<text x="254.2" y="151.7" font-size="11.9" font-weight="700" fill="#0c0c0c" textLength="82.4" lengthAdjust="spacingAndGlyphs" stroke="#0c0c0c" stroke-width="0.3">造成减压阀故障</text>
<text x="309.2" y="61.5" font-size="11.9" font-weight="700" fill="#0c0c0c" textLength="112.2" lengthAdjust="spacingAndGlyphs" stroke="#0c0c0c" stroke-width="0.3">减压+稳压，适用于蒸</text>
<text x="309.2" y="76.9" font-size="11.9" font-weight="700" fill="#0c0c0c" textLength="105.8" lengthAdjust="spacingAndGlyphs" stroke="#0c0c0c" stroke-width="0.3">汽或空气等气体介质</text>
<text x="511.3" y="62.7" font-size="11.9" font-weight="700" fill="#0c0c0c" textLength="141.8" lengthAdjust="spacingAndGlyphs" stroke="#0c0c0c" stroke-width="0.3">方便减压阀在线维护保养，</text>
<text x="511.3" y="78.5" font-size="11.9" font-weight="700" fill="#0c0c0c" textLength="164.4" lengthAdjust="spacingAndGlyphs" stroke="#0c0c0c" stroke-width="0.3">与减压阀处于同一水平面为最佳</text>
<text x="606.9" y="136.1" font-size="11.9" font-weight="700" fill="#0c0c0c" textLength="106.0" lengthAdjust="spacingAndGlyphs" stroke="#0c0c0c" stroke-width="0.3">此阀不能省掉，方便</text>
<text x="606.9" y="151.3" font-size="11.9" font-weight="700" fill="#0c0c0c" textLength="93.8" lengthAdjust="spacingAndGlyphs" stroke="#0c0c0c" stroke-width="0.3">减压阀调试和维护</text>
<text x="753.6" y="138.5" font-size="11.9" font-weight="700" fill="#0c0c0c" textLength="70.0" lengthAdjust="spacingAndGlyphs" stroke="#0c0c0c" stroke-width="0.3">保护下游设备</text>
<text x="237.2" y="303.7" font-size="11.9" font-weight="700" fill="#0c0c0c" textLength="94.8" lengthAdjust="spacingAndGlyphs" stroke="#0c0c0c" stroke-width="0.3">上游波纹管截止阀</text>
<text x="237.2" y="318.7" font-size="11.9" font-weight="700" fill="#0c0c0c" textLength="129.0" lengthAdjust="spacingAndGlyphs" stroke="#0c0c0c" stroke-width="0.3">安装在汽水分离器后面，</text>
<text x="237.2" y="334.3" font-size="11.9" font-weight="700" fill="#0c0c0c" textLength="117.2" lengthAdjust="spacingAndGlyphs" stroke="#0c0c0c" stroke-width="0.3">避免停机后冷凝水积存</text>
<text x="393.8" y="321.5" font-size="11.9" font-weight="700" fill="#0c0c0c" textLength="23.4" lengthAdjust="spacingAndGlyphs" stroke="#0c0c0c" stroke-width="0.3">缩径</text>
<text x="446.6" y="321.5" font-size="11.9" font-weight="700" fill="#0c0c0c" textLength="23.2" lengthAdjust="spacingAndGlyphs" stroke="#0c0c0c" stroke-width="0.3">扩管</text>
<text x="402.1" y="345.1" font-size="11.9" font-weight="700" fill="#0c0c0c" textLength="58.8" lengthAdjust="spacingAndGlyphs" stroke="#0c0c0c" stroke-width="0.3">偏心大小头</text>
<text x="472.6" y="288.1" font-size="11.9" font-weight="700" fill="#0c0c0c" textLength="118.0" lengthAdjust="spacingAndGlyphs" stroke="#0c0c0c" stroke-width="0.3">安装间距至少大于15倍</text>
<text x="472.6" y="303.3" font-size="11.9" font-weight="700" fill="#0c0c0c" textLength="100.0" lengthAdjust="spacingAndGlyphs" stroke="#0c0c0c" stroke-width="0.3">管径，最好大于1米</text>
<text x="493.8" y="439.1" font-size="11.9" font-weight="700" fill="#0c0c0c" textLength="200.8" lengthAdjust="spacingAndGlyphs" stroke="#0c0c0c" stroke-width="0.3">及时排放冷凝水，这两组疏水阀出来的</text>
<text x="493.8" y="454.3" font-size="11.9" font-weight="700" fill="#0c0c0c" textLength="187.4" lengthAdjust="spacingAndGlyphs" stroke="#0c0c0c" stroke-width="0.3">冷凝水不能直接汇集并到同一回收管</text>
</g>
</svg>
</body>
</html>
